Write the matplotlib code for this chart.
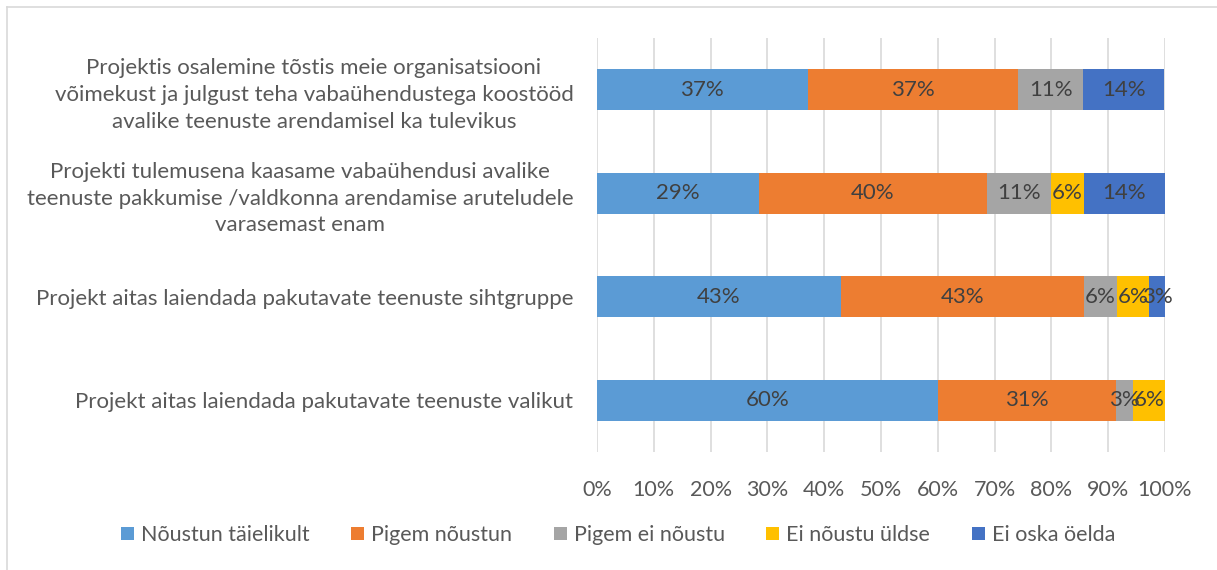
import matplotlib.pyplot as plt
import numpy as np
from matplotlib.lines import Line2D

plt.rcParams['font.family'] = ['Lato', 'DejaVu Sans']

categories = [
    'Projektis osalemine tõstis meie organisatsiooni\nvõimekust ja julgust teha vabaühendustega koostööd\navalike teenuste arendamisel ka tulevikus',
    'Projekti tulemusena kaasame vabaühendusi avalike\nteenuste pakkumise /valdkonna arendamise aruteludele\nvarasemast enam',
    'Projekt aitas laiendada pakutavate teenuste sihtgruppe',
    'Projekt aitas laiendada pakutavate teenuste valikut',
]
series = ['Nõustun täielikult', 'Pigem nõustun', 'Pigem ei nõustu', 'Ei nõustu üldse', 'Ei oska öelda']
colors = ['#5B9BD5', '#ED7D31', '#A5A5A5', '#FFC000', '#4472C4']

# shares per category (fractions)
noustun_taielikult = [0.371, 0.286, 0.429, 0.600]
pigem_noustun = [0.371, 0.400, 0.429, 0.314]
pigem_ei_noustu = [0.114, 0.114, 0.057, 0.029]
ei_noustu_uldse = [0.000, 0.057, 0.057, 0.057]
ei_oska_oelda = [0.143, 0.143, 0.029, 0.000]
values = [noustun_taielikult, pigem_noustun, pigem_ei_noustu, ei_noustu_uldse, ei_oska_oelda]

fig = plt.figure(figsize=(12.17, 5.70), dpi=100)
ax = fig.add_axes([597/1217, 1 - 452/570, 568/1217, 414/570])

y = np.arange(len(categories))
left = np.zeros(len(categories))
for name, vals, col in zip(series, values, colors):
    vals = np.array(vals)
    bars = ax.barh(y, vals, left=left, height=0.4, color=col, label=name, zorder=3)
    for b, v in zip(bars, vals):
        if v > 0:
            ax.text(b.get_x() + b.get_width() / 2, b.get_y() + b.get_height() / 2,
                    f'{v*100:.0f}%', ha='center', va='center', fontsize=16,
                    color='#404040', zorder=4)
    left += vals

ax.set_xlim(0, 1)
ax.set_ylim(3.5, -0.5)
ax.set_xticks(np.arange(0, 1.01, 0.1))
ax.set_xticklabels([f'{int(round(t*100))}%' for t in np.arange(0, 1.01, 0.1)])
ax.set_yticks(y)
ax.set_yticklabels(categories, ha='right', multialignment='center', linespacing=1.42)
ax.tick_params(axis='y', length=0, pad=17)
ax.tick_params(axis='x', length=0, pad=20)
for lab in ax.get_yticklabels():
    lab.set_fontsize(16)
    lab.set_color('#595959')
for lab in ax.get_xticklabels():
    lab.set_fontsize(15.5)
    lab.set_color('#595959')
ax.grid(axis='x', color='#D9D9D9', linewidth=1.2, zorder=0)
for s in ax.spines.values():
    s.set_visible(False)

leg = fig.legend(loc='center', bbox_to_anchor=(618/1217, 1 - 535/570), ncol=5, frameon=False,
                 fontsize=15.5, handlelength=0.6, handleheight=0.6, handletextpad=0.33,
                 columnspacing=1.93)
for t in leg.get_texts():
    t.set_color('#595959')

# outer chart border (top and left visible)
fig.add_artist(Line2D([7/1217, 1], [1 - 7/570, 1 - 7/570], color='#D9D9D9', linewidth=1.2))
fig.add_artist(Line2D([7/1217, 7/1217], [0, 1 - 7/570], color='#D9D9D9', linewidth=1.2))

fig.savefig('out.png', dpi=100)
